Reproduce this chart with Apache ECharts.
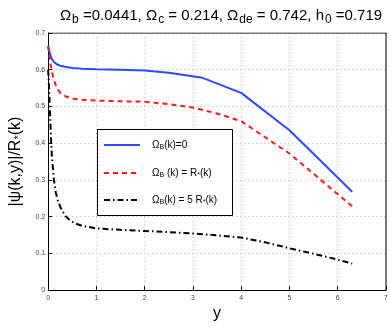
<!DOCTYPE html>
<html>
<head>
    <meta charset="utf-8" />
    <title>psi ratio</title>
    <style type="text/css">
        html, body { margin: 0; padding: 0; background: #fff; }
        #chart { width: 391px; height: 327px; }
    </style>
    <script src="https://cdn.jsdelivr.net/npm/echarts@6/dist/echarts.min.js"></script>
</head>
<body>
    <div id="chart"></div>
    <script type="text/javascript">
        // values
        var xTicks = [0, 1, 2, 3, 4, 5, 6, 7];
        var yTicks = [0, 0.1, 0.2, 0.3, 0.4, 0.5, 0.6, 0.7];
        var seriesNames = ['ΩB(k)=0', 'ΩB(k) = R*(k)', 'ΩB(k) = 5 R*(k)'];
        var blueLine = [
            [0, 0.665], [0.02, 0.652], [0.05, 0.638], [0.08, 0.629], [0.12, 0.621], [0.18, 0.615],
            [0.25, 0.611], [0.35, 0.608], [0.5, 0.605], [0.7, 0.603], [1, 0.601], [1.5, 0.600],
            [2, 0.598], [2.5, 0.592], [3.2, 0.578], [4, 0.537], [5, 0.435], [6.3, 0.268]
        ];
        var redLine = [
            [0, 0.665], [0.02, 0.645], [0.05, 0.615], [0.08, 0.594], [0.12, 0.572], [0.18, 0.55],
            [0.25, 0.537], [0.37, 0.527], [0.5, 0.521], [0.7, 0.518], [1, 0.516], [1.5, 0.514],
            [2, 0.513], [2.5, 0.506], [3, 0.497], [3.5, 0.481], [4, 0.46], [5, 0.372], [6.3, 0.228]
        ];
        var blackLine = [
            [0, 0.6], [0.02, 0.55], [0.04, 0.48], [0.06, 0.41], [0.08, 0.36], [0.12, 0.3],
            [0.16, 0.265], [0.2, 0.245], [0.25, 0.227], [0.3, 0.214], [0.37, 0.2], [0.45, 0.19],
            [0.55, 0.182], [0.7, 0.175], [1, 0.168], [1.5, 0.164], [2, 0.161], [2.5, 0.158],
            [3, 0.154], [3.5, 0.149], [4, 0.143], [4.5, 0.13], [5, 0.114], [5.5, 0.099],
            [6, 0.083], [6.3, 0.072]
        ];

        var font = 'Liberation Sans, Arial, sans-serif';

        var option = {
            backgroundColor: '#fff',
            animation: false,
            title: {
                text: 'Ω{s|b} =0.0441, Ω{s|c} = 0.214, Ω{s|de} = 0.742, h{s|0} =0.719',
                left: 216, top: 1, textAlign: 'center',
                textStyle: {
                    fontSize: 15, fontWeight: 'normal', color: '#000', fontFamily: font,
                    rich: { s: { fontSize: 12, fontFamily: font, color: '#000', padding: [8, 0, 0, 1] } }
                }
            },
            grid: { left: 44, right: 5, top: 33, bottom: 30 },
            xAxis: {
                type: 'value', min: 0, max: 7, interval: 1,
                name: 'y', nameLocation: 'middle', nameGap: 15,
                nameTextStyle: { fontSize: 16, color: '#000', fontFamily: font },
                axisLine: { show: true, lineStyle: { color: '#000', width: 1 } },
                axisTick: { inside: true, length: 4, lineStyle: { color: '#000' } },
                axisLabel: { fontSize: 7, color: '#444', fontFamily: font, margin: 4 },
                splitLine: { show: true, lineStyle: { color: '#bbb', type: [1, 3] } }
            },
            yAxis: {
                type: 'value', min: 0, max: 0.7, interval: 0.1,
                name: '|ψ(k,y)|/R{s|*}(k)', nameLocation: 'middle', nameGap: 22, nameRotate: 90,
                nameTextStyle: {
                    fontSize: 16, color: '#000', fontFamily: font,
                    rich: { s: { fontSize: 11, fontFamily: font, color: '#000', padding: [0, 0, -6, 0] } }
                },
                axisLine: { show: true, lineStyle: { color: '#000', width: 1 } },
                axisTick: { inside: true, length: 4, lineStyle: { color: '#000' } },
                axisLabel: {
                    fontSize: 7, color: '#444', fontFamily: font, margin: 3,
                    formatter: function (v) { return v === 0 ? '0' : String(Math.round(v * 10) / 10); }
                },
                splitLine: { show: true, lineStyle: { color: '#bbb', type: [1, 3] } }
            },
            series: [
                {
                    name: seriesNames[0], type: 'line', data: blueLine, showSymbol: false,
                    lineStyle: { color: '#2a4bff', width: 2 }, z: 3
                },
                {
                    name: seriesNames[1], type: 'line', data: redLine, showSymbol: false,
                    lineStyle: { color: '#ff1a1a', width: 2, type: [5, 4] }, z: 3
                },
                {
                    name: seriesNames[2], type: 'line', data: blackLine, showSymbol: false,
                    lineStyle: { color: '#000', width: 2, type: [6, 3, 1.5, 3] }, z: 3
                },
                {
                    // top and right frame
                    type: 'line', data: [[0, 0.7], [7, 0.7], [7, 0]], showSymbol: false, silent: true,
                    lineStyle: { color: '#000', width: 1 }, z: 2
                }
            ],
            graphic: [
                {
                    type: 'rect', left: 97, top: 129, z: 10,
                    shape: { width: 135, height: 86 },
                    style: { fill: '#fff', stroke: '#000', lineWidth: 1 }
                },
                {
                    type: 'line', z: 11, shape: { x1: 104, y1: 145, x2: 140, y2: 145 },
                    style: { stroke: '#2a4bff', lineWidth: 2 }
                },
                {
                    type: 'line', z: 11, shape: { x1: 104, y1: 173, x2: 140, y2: 173 },
                    style: { stroke: '#ff1a1a', lineWidth: 2, lineDash: [5, 4] }
                },
                {
                    type: 'line', z: 11, shape: { x1: 104, y1: 200, x2: 140, y2: 200 },
                    style: { stroke: '#000', lineWidth: 2, lineDash: [6, 3, 1.5, 3] }
                },
                {
                    type: 'text', z: 11, left: 152, top: 140,
                    style: {
                        text: 'Ω{s|B}(k)=0', fontSize: 10, fontFamily: font, fill: '#000',
                        rich: { s: { fontSize: 7, fontFamily: font, padding: [5, 0, 0, 0] } }
                    }
                },
                {
                    type: 'text', z: 11, left: 152, top: 168,
                    style: {
                        text: 'Ω{s|B} (k) = R{s|*}(k)', fontSize: 10, fontFamily: font, fill: '#000',
                        rich: { s: { fontSize: 7, fontFamily: font, padding: [5, 0, 0, 0] } }
                    }
                },
                {
                    type: 'text', z: 11, left: 152, top: 195,
                    style: {
                        text: 'Ω{s|B}(k) = 5 R{s|*}(k)', fontSize: 10, fontFamily: font, fill: '#000',
                        rich: { s: { fontSize: 7, fontFamily: font, padding: [5, 0, 0, 0] } }
                    }
                }
            ]
        };

        var myChart = echarts.init(document.getElementById('chart'), null, { renderer: 'canvas' });
        myChart.setOption(option);
    </script>
</body>
</html>
